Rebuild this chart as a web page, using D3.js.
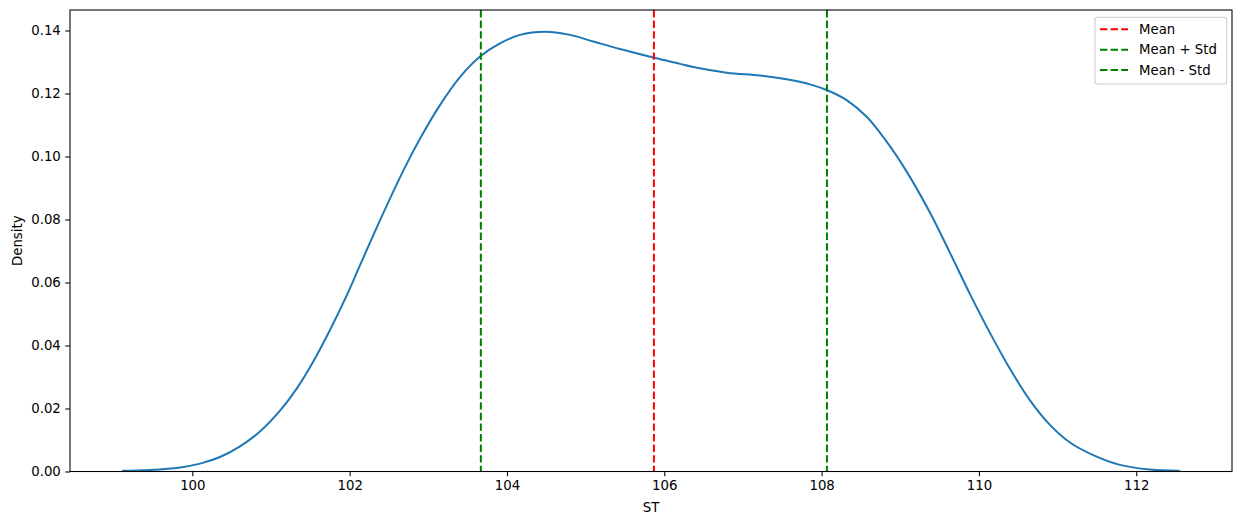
<!DOCTYPE html>
<html><head><meta charset="utf-8">
<script src="https://cdn.jsdelivr.net/npm/d3@7"></script>
<style>body{margin:0;background:#fff}svg{display:block;font-family:"DejaVu Sans",sans-serif}</style>
</head><body><svg id="c" width="1242" height="525"></svg>
<script>
const xs = [99.106,99.462,99.844,100.098,100.352,100.606,100.860,101.115,101.327,101.538,101.750,101.963,102.132,102.400,102.682,102.894,103.148,103.402,103.666,103.911,104.165,104.483,104.801,105.097,105.436,105.860,106.199,106.368,106.793,107.216,107.556,107.852,108.064,108.318,108.573,108.827,109.081,109.377,109.632,109.886,110.140,110.394,110.649,110.903,111.157,111.453,111.792,112.173,112.554];
const density = [0.0002,0.0005,0.0013,0.0025,0.0046,0.0080,0.0127,0.0193,0.0263,0.0349,0.0449,0.0559,0.0655,0.0805,0.0955,0.1056,0.1163,0.1252,0.1319,0.1359,0.1386,0.1396,0.1386,0.1365,0.1341,0.1314,0.1294,0.1284,0.1266,0.1257,0.1245,0.1229,0.1211,0.1179,0.1126,0.1047,0.0952,0.0822,0.0694,0.0563,0.0440,0.0326,0.0226,0.0148,0.0092,0.0052,0.0021,0.0006,0.0002];
const refNames = ["Mean","Mean + Std","Mean - Std"];
const refValues = [105.868, 108.068, 103.668];
const refColors = ["#ff0000","#008000","#008000"];
const xTicks = [100,102,104,106,108,110,112];
const yTicks = [0,0.02,0.04,0.06,0.08,0.10,0.12,0.14];

const L=70,R=1232,T=10,B=471.5;
const svg=d3.select("#c");
const x=d3.scaleLinear().domain([98.445,113.217]).range([L,R]);
const y=d3.scaleLinear().domain([0,0.1465]).range([B,T]);

const xa=svg.append("g").attr("transform",`translate(0,${B})`)
 .call(d3.axisBottom(x).tickValues(xTicks).tickFormat(d3.format("d")).tickSize(4.7).tickPadding(4.5));
const ya=svg.append("g").attr("transform",`translate(${L},0)`)
 .call(d3.axisLeft(y).tickValues(yTicks).tickFormat(d3.format(".2f")).tickSize(4.7).tickPadding(4.5));
[xa,ya].forEach(a=>{a.selectAll("text").attr("font-size","13.3px").attr("fill","#000").attr("font-family","DejaVu Sans");
 a.selectAll("line").attr("stroke","#000").attr("stroke-width",1.07);a.select(".domain").remove();});

const pts=xs.map((v,i)=>[v,density[i]]);
svg.append("path").datum(pts).attr("fill","none").attr("stroke","#1f77b4").attr("stroke-width",2)
 .attr("d",d3.line().x(d=>x(d[0])).y(d=>y(d[1])).curve(d3.curveCatmullRom));

refValues.forEach((v,i)=>{
 svg.append("line").attr("x1",x(v)).attr("x2",x(v)).attr("y1",T).attr("y2",B)
  .attr("stroke",refColors[i]).attr("stroke-width",2).attr("stroke-dasharray","7.4,3.2");
});

svg.append("rect").attr("x",L).attr("y",T).attr("width",R-L).attr("height",B-T)
 .attr("fill","none").attr("stroke","#000").attr("stroke-width",1.07);

svg.append("text").attr("x",(L+R)/2).attr("y",512).attr("text-anchor","middle").attr("font-size","13.3px").text("ST");
svg.append("text").attr("transform",`translate(21.5,${(T+B)/2}) rotate(-90)`).attr("text-anchor","middle").attr("font-size","13.3px").text("Density");

const lg=svg.append("g");
lg.append("rect").attr("x",1095).attr("y",17.3).attr("width",131.7).attr("height",66.7).attr("rx",2.7)
 .attr("fill","#fff").attr("fill-opacity",0.8).attr("stroke","#cccccc").attr("stroke-width",1.07);
refNames.forEach((n,i)=>{
 const yy=29.3+i*20.4;
 lg.append("line").attr("x1",1100).attr("x2",1128).attr("y1",yy).attr("y2",yy)
  .attr("stroke",refColors[i]).attr("stroke-width",2).attr("stroke-dasharray","7.4,3.2");
 lg.append("text").attr("x",1139).attr("y",yy).attr("dy","0.35em").attr("font-size","13.3px").text(n);
});
</script></body></html>
